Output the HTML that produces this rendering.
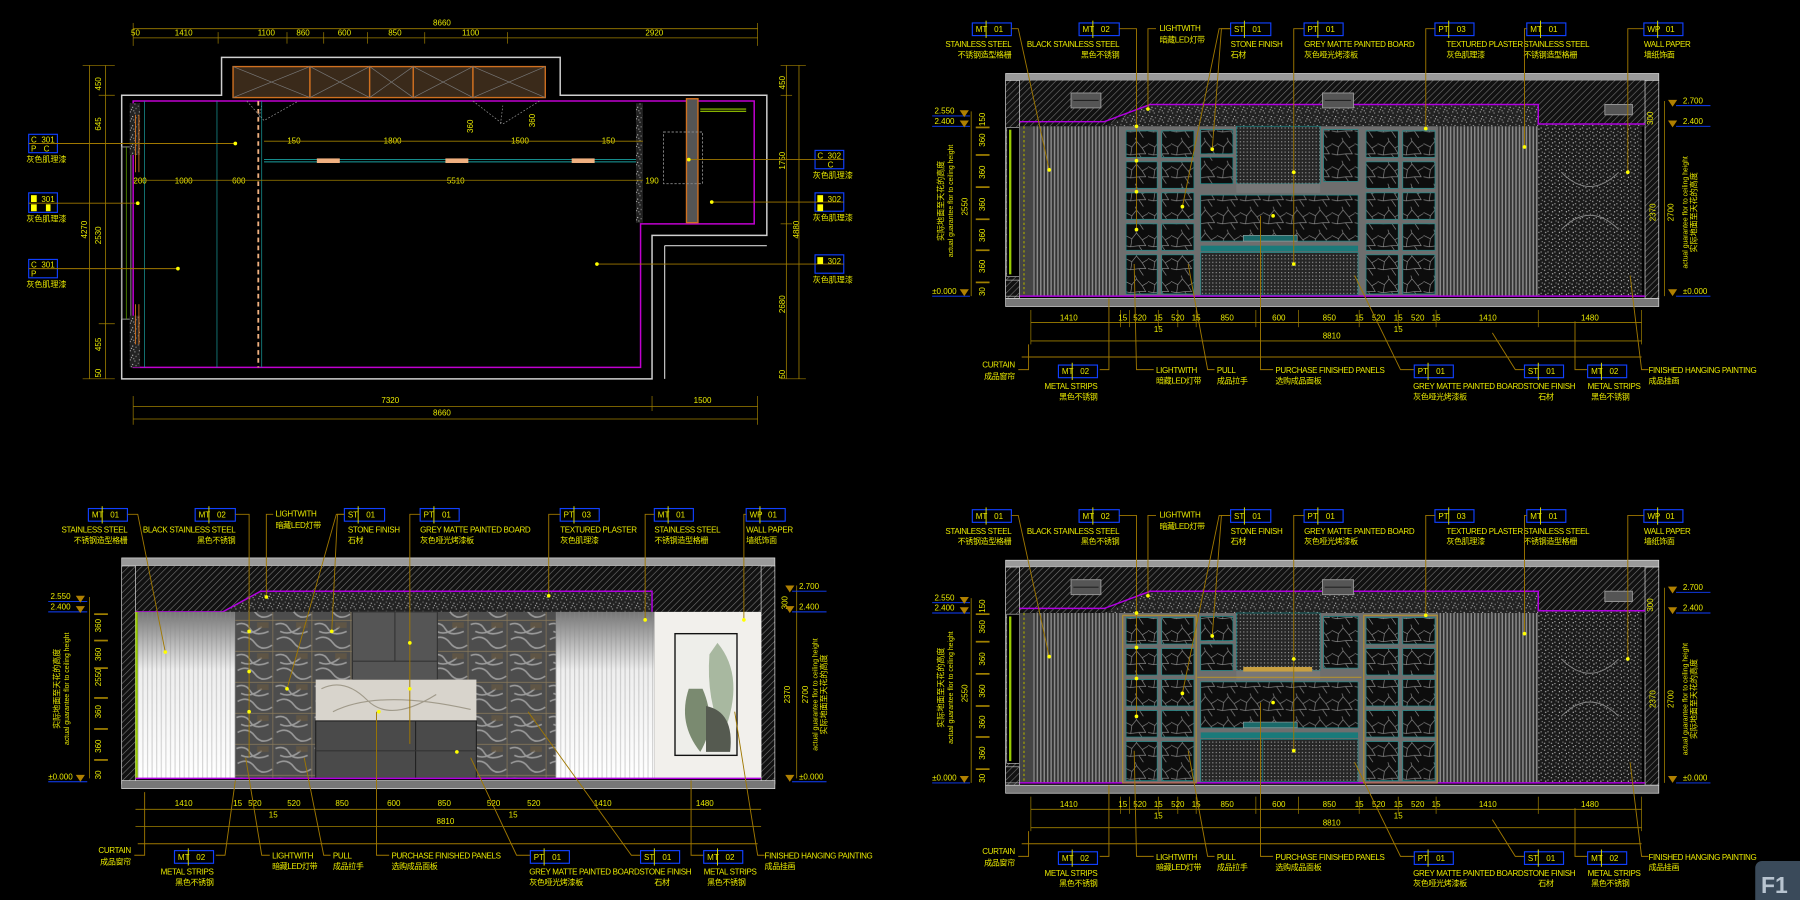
<!DOCTYPE html>
<html><head><meta charset="utf-8">
<style>
html,body{margin:0;padding:0;background:#000;width:1800px;height:900px;overflow:hidden}
svg{display:block}
text{font-family:"Liberation Sans","Noto Sans CJK SC",sans-serif;fill:#e8e800;font-size:7px}
.t{font-size:7px;letter-spacing:-0.3px}
.s{font-size:6.5px}
.bx{fill:none;stroke:#1040ff;stroke-width:1}
.ld{fill:none;stroke:#a07800;stroke-width:.8}
.dm{fill:none;stroke:#a08000;stroke-width:.7}
.dot{fill:#ffff00}
</style></head><body>
<svg width="1800" height="900" viewBox="0 0 1568 784" preserveAspectRatio="none" xmlns="http://www.w3.org/2000/svg">
<defs>
<pattern id="hatch" width="4" height="4" patternUnits="userSpaceOnUse" patternTransform="rotate(45)">
<rect width="4" height="4" fill="#111"/><line x1="0" y1="0" x2="0" y2="4" stroke="#777" stroke-width="1"/></pattern>
<pattern id="speck" width="8" height="8" patternUnits="userSpaceOnUse">
<rect width="8" height="8" fill="#222"/><rect x="1" y="1" width="1" height="1" fill="#aaa"/><rect x="5" y="2" width="1" height="1" fill="#999"/><rect x="3" y="5" width="1" height="1" fill="#bbb"/><rect x="6" y="6" width="1" height="1" fill="#888"/><rect x="0" y="4" width="1" height="1" fill="#777"/><rect x="4" y="0" width="1" height="1" fill="#999"/><rect x="2" y="7" width="1" height="1" fill="#aaa"/></pattern>
<pattern id="speck2" width="6" height="6" patternUnits="userSpaceOnUse">
<rect width="6" height="6" fill="#1a1a1a"/><rect x="1" y="1" width="1" height="1" fill="#bbb"/><rect x="4" y="3" width="1" height="1" fill="#aaa"/><rect x="2" y="4" width="1" height="1" fill="#ccc"/><rect x="5" y="0" width="1" height="1" fill="#888"/></pattern>
<pattern id="stripes" width="3" height="10" patternUnits="userSpaceOnUse">
<rect width="3" height="10" fill="#333"/><rect width="1.3" height="10" fill="#8a8a8a"/></pattern>
<pattern id="crack" width="20" height="20" patternUnits="userSpaceOnUse">
<rect width="20" height="20" fill="#0d0d0d"/><path d="M0 5 L6 8 L10 3 L15 9 L20 6 M6 8 L5 15 L12 14 L16 20 M10 3 L9 0 M15 9 L18 14 L12 14 M0 14 L5 15" stroke="#888" stroke-width=".6" fill="none"/></pattern>
<pattern id="perf" width="3" height="3" patternUnits="userSpaceOnUse">
<rect width="3" height="3" fill="#262626"/><rect width="1" height="1" fill="#9a9a9a"/></pattern>
<pattern id="tile" width="34" height="27" patternUnits="userSpaceOnUse">
<rect width="34" height="27" fill="#4d4d4d"/><path d="M2 4 Q10 1 14 8 T30 10 M3 17 Q12 12 18 20 T33 22 M6 10 Q15 14 24 6" stroke="#9a9a9a" stroke-width="1.4" fill="none"/><path d="M0 0 H34 V27" stroke="#8a7a5a" stroke-width="1.2" fill="none"/><rect x="20" y="2" width="10" height="5" fill="#6a5a40" opacity=".6"/></pattern>
<linearGradient id="curt" x1="0" y1="0" x2="0" y2="1"><stop offset="0" stop-color="#777"/><stop offset=".35" stop-color="#eee"/><stop offset="1" stop-color="#fff"/></linearGradient>
<pattern id="curtS" width="4" height="10" patternUnits="userSpaceOnUse"><rect width="4" height="10" fill="url(#curt)" opacity="0"/><rect width="1" height="10" fill="#888" opacity=".35"/></pattern>

<g id="elevA">
<rect x="876" y="64" width="569" height="6" fill="#9a9a9a" stroke="#ddd" stroke-width=".6"/>
<rect x="876" y="70" width="569" height="40" fill="url(#hatch)"/>
<rect x="876" y="70" width="12" height="190" fill="url(#hatch)" stroke="#ddd" stroke-width=".6"/>
<rect x="1433" y="70" width="12" height="190" fill="url(#hatch)" stroke="#ddd" stroke-width=".6"/>
<rect x="877" y="111" width="11" height="130" fill="#000" stroke="#ddd" stroke-width=".5"/>
<rect x="879" y="113" width="2" height="126" fill="#9c0"/>
<polygon points="962,110 1002,91 1340,91 1340,110" fill="url(#speck)"/>
<polygon points="1340,108 1433,108 1433,110 1340,110" fill="url(#speck)"/>
<polyline points="888,106 962,106 1002,91 1340,91 1340,108 1433,108" fill="none" stroke="#b000e0" stroke-width="1.3"/>
<rect x="933" y="81" width="26" height="13" fill="#555" stroke="#999" stroke-width=".8"/><line x1="935" y1="87.5" x2="957" y2="87.5" stroke="#222"/>
<rect x="1152" y="81" width="27" height="13" fill="#555" stroke="#999" stroke-width=".8"/><line x1="1154" y1="87.5" x2="1177" y2="87.5" stroke="#222"/>
<rect x="1398" y="91" width="24" height="9" fill="#555" stroke="#999" stroke-width=".8"/>
<rect x="888" y="110" width="12" height="148" fill="#444"/>
<line x1="892" y1="110" x2="892" y2="258" stroke="#aa0" stroke-width="1" stroke-dasharray="2 2"/>
<rect x="900" y="110" width="76" height="148" fill="url(#stripes)"/>
<rect x="976" y="110" width="277" height="148" fill="#6e6e6e"/>
<g fill="url(#crack)" stroke="#1a8a8a" stroke-width=".6">
<rect x="981" y="114" width="27" height="23"/><rect x="1012" y="114" width="28" height="23"/>
<rect x="981" y="141" width="27" height="23"/><rect x="1012" y="141" width="28" height="23"/>
<rect x="981" y="168" width="27" height="23"/><rect x="1012" y="168" width="28" height="23"/>
<rect x="981" y="195" width="27" height="23"/><rect x="1012" y="195" width="28" height="23"/>
<rect x="981" y="222" width="27" height="34"/><rect x="1012" y="222" width="28" height="34"/>
<rect x="1190" y="114" width="28" height="23"/><rect x="1222" y="114" width="28" height="23"/>
<rect x="1190" y="141" width="28" height="23"/><rect x="1222" y="141" width="28" height="23"/>
<rect x="1190" y="168" width="28" height="23"/><rect x="1222" y="168" width="28" height="23"/>
<rect x="1190" y="195" width="28" height="23"/><rect x="1222" y="195" width="28" height="23"/>
<rect x="1190" y="222" width="28" height="34"/><rect x="1222" y="222" width="28" height="34"/>
<rect x="1046" y="113" width="28" height="21"/><rect x="1046" y="137" width="28" height="23"/>
<rect x="1153" y="113" width="30" height="45"/>
<rect x="1046" y="170" width="137" height="40"/>
</g>
<rect x="1077" y="110" width="73" height="50" fill="url(#perf)" stroke="#1a8a8a" stroke-width=".6"/>
<rect x="1077" y="160" width="73" height="8" fill="#777"/>
<rect x="1046" y="214" width="137" height="5" fill="#1a7a7a"/>
<rect x="1046" y="220" width="137" height="37" fill="url(#perf)" stroke="#1a8a8a" stroke-width=".6"/>
<line x1="1100" y1="220" x2="1100" y2="257" stroke="#1a8a8a" stroke-width=".6"/>
<rect x="1083" y="205" width="47" height="5" fill="#1a6a6a" stroke="#aaa" stroke-width=".5"/>
<rect x="1253" y="110" width="87" height="148" fill="url(#stripes)"/>
<rect x="1340" y="110" width="90" height="148" fill="url(#speck2)"/>
<path d="M1360 150 Q1385 175 1410 150 M1360 200 Q1385 175 1410 200" stroke="#888" fill="none" stroke-width=".8"/>
<line x1="888" y1="258" x2="1433" y2="258" stroke="#b000e0" stroke-width="1.3"/>
<rect x="876" y="260" width="569" height="7" fill="#777" stroke="#ddd" stroke-width=".6"/>
<rect x="876" y="244" width="12" height="14" fill="url(#hatch)" stroke="#ddd" stroke-width=".5"/>
</g>

<g id="dimsA">
<line class="dm" x1="898" y1="281" x2="1430" y2="281"/>
<line class="dm" x1="898" y1="297" x2="1430" y2="297"/>
<g stroke="#a08000" stroke-width=".6">
<line x1="898" y1="270" x2="898" y2="300"/><line x1="976" y1="270" x2="976" y2="285"/><line x1="984" y1="270" x2="984" y2="285"/><line x1="1009" y1="270" x2="1009" y2="285"/><line x1="1026" y1="270" x2="1026" y2="285"/><line x1="1042" y1="270" x2="1042" y2="285"/><line x1="1094" y1="270" x2="1094" y2="285"/><line x1="1131" y1="270" x2="1131" y2="285"/><line x1="1184" y1="270" x2="1184" y2="285"/><line x1="1218" y1="270" x2="1218" y2="285"/><line x1="1251" y1="270" x2="1251" y2="285"/><line x1="1340" y1="270" x2="1340" y2="285"/><line x1="1430" y1="270" x2="1430" y2="300"/>
</g>
<g class="s" text-anchor="middle">
<text x="931" y="279">1410</text><text x="978" y="279">15</text><text x="993" y="279">520</text><text x="1009" y="279">15</text><text x="1026" y="279">520</text><text x="1042" y="279">15</text><text x="1069" y="279">850</text><text x="1114" y="279">600</text><text x="1158" y="279">850</text><text x="1184" y="279">15</text><text x="1201" y="279">520</text><text x="1218" y="279">15</text><text x="1235" y="279">520</text><text x="1251" y="279">15</text><text x="1296" y="279">1410</text><text x="1385" y="279">1480</text>
<text x="1009" y="289">15</text><text x="1218" y="289">15</text>
<text x="1160" y="295">8810</text>
</g>
<line class="dm" x1="846" y1="97" x2="846" y2="258"/>
<g stroke="#a08000" stroke-width="1.5"><line x1="850" y1="111" x2="862" y2="111"/><line x1="850" y1="135" x2="862" y2="135"/><line x1="850" y1="163" x2="862" y2="163"/><line x1="850" y1="191" x2="862" y2="191"/><line x1="850" y1="218" x2="862" y2="218"/><line x1="850" y1="246" x2="862" y2="246"/></g>
<g class="s" text-anchor="middle">
<text transform="translate(858,122) rotate(-90)">360</text><text transform="translate(858,150) rotate(-90)">360</text><text transform="translate(858,178) rotate(-90)">360</text><text transform="translate(858,205) rotate(-90)">360</text><text transform="translate(858,232) rotate(-90)">360</text><text transform="translate(858,104) rotate(-90)">150</text><text transform="translate(858,254) rotate(-90)">30</text>
<text transform="translate(843,180) rotate(-90)">2550</text>
<text transform="translate(822,175) rotate(-90)">实际地面至天花的高度</text>
<text transform="translate(830,175) rotate(-90)" style="font-size:6px">actual guarantee flor to ceiling height</text>
<text transform="translate(1440,103) rotate(-90)">300</text>
<text transform="translate(1442,185) rotate(-90)">2370</text>
<text transform="translate(1458,185) rotate(-90)">2700</text>
<text transform="translate(1470,185) rotate(-90)" style="font-size:6px">actual guarantee flor to ceiling height</text>
<text transform="translate(1478,185) rotate(-90)">实际地面至天花的高度</text>
</g>
<line class="dm" x1="1450" y1="88" x2="1450" y2="258"/>
<g class="s"><text x="814" y="99">2.550</text><text x="814" y="108">2.400</text><text x="812" y="256">±0.000</text>
<text x="1466" y="90">2.700</text><text x="1466" y="108">2.400</text><text x="1466" y="256">±0.000</text></g>
<g stroke="#1040ff" stroke-width=".8"><line x1="812" y1="101" x2="845" y2="101"/><line x1="812" y1="110" x2="845" y2="110"/><line x1="812" y1="258" x2="845" y2="258"/><line x1="1460" y1="92" x2="1490" y2="92"/><line x1="1460" y1="110" x2="1490" y2="110"/><line x1="1460" y1="258" x2="1490" y2="258"/></g>
<g fill="#b08000"><polygon points="836,96 844,96 840,102"/><polygon points="836,105 844,105 840,111"/><polygon points="836,252 844,252 840,258"/><polygon points="1453,87 1461,87 1457,93"/><polygon points="1453,105 1461,105 1457,111"/><polygon points="1453,252 1461,252 1457,258"/></g>
</g>

<g id="tagsA">
<g class="bx"><rect x="847" y="20" width="34" height="11"/><rect x="940" y="20" width="35" height="11"/><rect x="1072" y="20" width="35" height="11"/><rect x="1136" y="20" width="34" height="11"/><rect x="1250" y="20" width="34" height="11"/><rect x="1330" y="20" width="34" height="11"/><rect x="1432" y="20" width="34" height="11"/></g>
<g stroke="#e8e800" stroke-width=".8"><line x1="859" y1="18" x2="859" y2="33"/><line x1="952" y1="18" x2="952" y2="33"/><line x1="1084" y1="18" x2="1084" y2="33"/><line x1="1148" y1="18" x2="1148" y2="33"/><line x1="1262" y1="18" x2="1262" y2="33"/><line x1="1342" y1="18" x2="1342" y2="33"/><line x1="1444" y1="18" x2="1444" y2="33"/></g>
<g class="s"><text x="850" y="28">MT</text><text x="866" y="28">01</text><text x="943" y="28">MT</text><text x="959" y="28">02</text><text x="1075" y="28">ST</text><text x="1091" y="28">01</text><text x="1139" y="28">PT</text><text x="1155" y="28">01</text><text x="1253" y="28">PT</text><text x="1269" y="28">03</text><text x="1333" y="28">MT</text><text x="1349" y="28">01</text><text x="1435" y="28">WP</text><text x="1451" y="28">01</text></g>
<g class="t"><text x="881" y="41" text-anchor="end">STAINLESS STEEL</text><text x="881" y="50" text-anchor="end">不锈钢造型格栅</text>
<text x="975" y="41" text-anchor="end">BLACK STAINLESS STEEL</text><text x="975" y="50" text-anchor="end">黑色不锈钢</text>
<text x="1010" y="27">LIGHTWITH</text><text x="1010" y="37">暗藏LED灯带</text>
<text x="1072" y="41">STONE FINISH</text><text x="1072" y="50">石材</text>
<text x="1136" y="41">GREY MATTE PAINTED BOARD</text><text x="1136" y="50">灰色哑光烤漆板</text>
<text x="1260" y="41">TEXTURED PLASTER</text><text x="1260" y="50">灰色肌理漆</text>
<text x="1327" y="41">STAINLESS STEEL</text><text x="1327" y="50">不锈钢造型格栅</text>
<text x="1432" y="41">WALL PAPER</text><text x="1432" y="50">墙纸饰面</text></g>
<g class="ld"><polyline points="881,25 887,25 914,148"/><polyline points="975,25 990,25 990,200"/><polyline points="1007,25 1000,25 1000,95"/><polyline points="1072,25 1062,25 1030,180"/><polyline points="1072,25 1064,25 1056,130"/><polyline points="1136,25 1127,25 1127,230"/><polyline points="1250,25 1242,25 1242,112"/><polyline points="1330,25 1328,25 1328,128"/><polyline points="1432,25 1418,25 1418,150"/></g>
<g class="dot"><circle cx="914" cy="148" r="1.6"/><circle cx="990" cy="110" r="1.6"/><circle cx="990" cy="140" r="1.6"/><circle cx="990" cy="167" r="1.6"/><circle cx="990" cy="200" r="1.6"/><circle cx="1000" cy="95" r="1.6"/><circle cx="1030" cy="180" r="1.6"/><circle cx="1040" cy="150" r="1.6"/><circle cx="1056" cy="130" r="1.6"/><circle cx="1127" cy="150" r="1.6"/><circle cx="1127" cy="190" r="1.6"/><circle cx="1127" cy="230" r="1.6"/><circle cx="1242" cy="112" r="1.6"/><circle cx="1328" cy="128" r="1.6"/><circle cx="1418" cy="150" r="1.6"/><circle cx="1109" cy="188" r="1.6"/><circle cx="1000" cy="213" r="1.6"/><circle cx="988" cy="230" r="1.6"/></g>
<line class="ld" x1="890" y1="311" x2="1430" y2="311"/>
<g class="ld"><polyline points="887,322 896,322 896,300"/><polyline points="958,322 966,322 966,260"/><polyline points="1005,322 990,322 988,230"/><polyline points="1005,322 998,322 1000,210"/><polyline points="1058,322 1052,322 1035,230"/><polyline points="1109,322 1098,322 1098,188"/><polyline points="1232,322 1220,322 1180,240"/><polyline points="1328,322 1320,322 1300,290"/><polyline points="1383,322 1372,322 1372,280"/><polyline points="1436,322 1430,322 1420,240"/></g>
<g class="bx"><rect x="922" y="318" width="34" height="11"/><rect x="1232" y="318" width="34" height="11"/><rect x="1328" y="318" width="34" height="11"/><rect x="1383" y="318" width="34" height="11"/></g>
<g stroke="#e8e800" stroke-width=".8"><line x1="934" y1="316" x2="934" y2="331"/><line x1="1244" y1="316" x2="1244" y2="331"/><line x1="1340" y1="316" x2="1340" y2="331"/><line x1="1395" y1="316" x2="1395" y2="331"/></g>
<g class="s"><text x="925" y="326">MT</text><text x="941" y="326">02</text><text x="1235" y="326">PT</text><text x="1251" y="326">01</text><text x="1331" y="326">ST</text><text x="1347" y="326">01</text><text x="1386" y="326">MT</text><text x="1402" y="326">02</text></g>
<g class="t"><text x="884" y="320" text-anchor="end">CURTAIN</text><text x="884" y="330" text-anchor="end">成品窗帘</text>
<text x="956" y="339" text-anchor="end">METAL STRIPS</text><text x="956" y="348" text-anchor="end">黑色不锈钢</text>
<text x="1007" y="325">LIGHTWITH</text><text x="1007" y="334">暗藏LED灯带</text>
<text x="1060" y="325">PULL</text><text x="1060" y="334">成品拉手</text>
<text x="1111" y="325">PURCHASE FINISHED PANELS</text><text x="1111" y="334">选购成品面板</text>
<text x="1231" y="339">GREY MATTE PAINTED BOARD</text><text x="1231" y="348">灰色哑光烤漆板</text>
<text x="1327" y="339">STONE FINISH</text><text x="1340" y="348">石材</text>
<text x="1383" y="339">METAL STRIPS</text><text x="1386" y="348">黑色不锈钢</text>
<text x="1436" y="325">FINISHED HANGING PAINTING</text><text x="1436" y="334">成品挂画</text></g>
</g>
</defs>

<!-- top-right elevation -->
<use href="#elevA"/>
<use href="#dimsA"/>
<g>
<g class="bx"><rect x="847" y="20" width="34" height="11"/><rect x="940" y="20" width="35" height="11"/><rect x="1072" y="20" width="35" height="11"/><rect x="1136" y="20" width="34" height="11"/><rect x="1250" y="20" width="34" height="11"/><rect x="1330" y="20" width="34" height="11"/><rect x="1432" y="20" width="34" height="11"/></g>
<g stroke="#e8e800" stroke-width=".8"><line x1="859" y1="18" x2="859" y2="33"/><line x1="952" y1="18" x2="952" y2="33"/><line x1="1084" y1="18" x2="1084" y2="33"/><line x1="1148" y1="18" x2="1148" y2="33"/><line x1="1262" y1="18" x2="1262" y2="33"/><line x1="1342" y1="18" x2="1342" y2="33"/><line x1="1444" y1="18" x2="1444" y2="33"/></g>
<g class="s"><text x="850" y="28">MT</text><text x="866" y="28">01</text><text x="943" y="28">MT</text><text x="959" y="28">02</text><text x="1075" y="28">ST</text><text x="1091" y="28">01</text><text x="1139" y="28">PT</text><text x="1155" y="28">01</text><text x="1253" y="28">PT</text><text x="1269" y="28">03</text><text x="1333" y="28">MT</text><text x="1349" y="28">01</text><text x="1435" y="28">WP</text><text x="1451" y="28">01</text></g>
<g class="t"><text x="881" y="41" text-anchor="end">STAINLESS STEEL</text><text x="881" y="50" text-anchor="end">不锈钢造型格栅</text>
<text x="975" y="41" text-anchor="end">BLACK STAINLESS STEEL</text><text x="975" y="50" text-anchor="end">黑色不锈钢</text>
<text x="1010" y="27">LIGHTWITH</text><text x="1010" y="37">暗藏LED灯带</text>
<text x="1072" y="41">STONE FINISH</text><text x="1072" y="50">石材</text>
<text x="1136" y="41">GREY MATTE PAINTED BOARD</text><text x="1136" y="50">灰色哑光烤漆板</text>
<text x="1260" y="41">TEXTURED PLASTER</text><text x="1260" y="50">灰色肌理漆</text>
<text x="1327" y="41">STAINLESS STEEL</text><text x="1327" y="50">不锈钢造型格栅</text>
<text x="1432" y="41">WALL PAPER</text><text x="1432" y="50">墙纸饰面</text></g>
<g class="ld"><polyline points="881,25 887,25 914,148"/><polyline points="975,25 990,25 990,200"/><polyline points="1007,25 1000,25 1000,95"/><polyline points="1072,25 1062,25 1030,180"/><polyline points="1072,25 1064,25 1056,130"/><polyline points="1136,25 1127,25 1127,230"/><polyline points="1250,25 1242,25 1242,112"/><polyline points="1330,25 1328,25 1328,128"/><polyline points="1432,25 1418,25 1418,150"/></g>
<g class="dot"><circle cx="914" cy="148" r="1.6"/><circle cx="990" cy="110" r="1.6"/><circle cx="990" cy="140" r="1.6"/><circle cx="990" cy="167" r="1.6"/><circle cx="990" cy="200" r="1.6"/><circle cx="1000" cy="95" r="1.6"/><circle cx="1030" cy="180" r="1.6"/><circle cx="1056" cy="130" r="1.6"/><circle cx="1127" cy="150" r="1.6"/><circle cx="1127" cy="230" r="1.6"/><circle cx="1242" cy="112" r="1.6"/><circle cx="1328" cy="128" r="1.6"/><circle cx="1418" cy="150" r="1.6"/><circle cx="1109" cy="188" r="1.6"/></g>
<line class="ld" x1="890" y1="311" x2="1430" y2="311"/>
<g class="ld"><polyline points="887,322 896,322 896,300"/><polyline points="958,322 966,322 966,260"/><polyline points="1005,322 990,322 988,230"/><polyline points="1058,322 1052,322 1035,230"/><polyline points="1109,322 1098,322 1098,188"/><polyline points="1232,322 1220,322 1180,240"/><polyline points="1328,322 1320,322 1300,290"/><polyline points="1383,322 1372,322 1372,280"/><polyline points="1436,322 1430,322 1420,240"/></g>
<g class="bx"><rect x="922" y="318" width="34" height="11"/><rect x="1232" y="318" width="34" height="11"/><rect x="1328" y="318" width="34" height="11"/><rect x="1383" y="318" width="34" height="11"/></g>
<g stroke="#e8e800" stroke-width=".8"><line x1="934" y1="316" x2="934" y2="331"/><line x1="1244" y1="316" x2="1244" y2="331"/><line x1="1340" y1="316" x2="1340" y2="331"/><line x1="1395" y1="316" x2="1395" y2="331"/></g>
<g class="s"><text x="925" y="326">MT</text><text x="941" y="326">02</text><text x="1235" y="326">PT</text><text x="1251" y="326">01</text><text x="1331" y="326">ST</text><text x="1347" y="326">01</text><text x="1386" y="326">MT</text><text x="1402" y="326">02</text></g>
<g class="t"><text x="884" y="320" text-anchor="end">CURTAIN</text><text x="884" y="330" text-anchor="end">成品窗帘</text>
<text x="956" y="339" text-anchor="end">METAL STRIPS</text><text x="956" y="348" text-anchor="end">黑色不锈钢</text>
<text x="1007" y="325">LIGHTWITH</text><text x="1007" y="334">暗藏LED灯带</text>
<text x="1060" y="325">PULL</text><text x="1060" y="334">成品拉手</text>
<text x="1111" y="325">PURCHASE FINISHED PANELS</text><text x="1111" y="334">选购成品面板</text>
<text x="1231" y="339">GREY MATTE PAINTED BOARD</text><text x="1231" y="348">灰色哑光烤漆板</text>
<text x="1327" y="339">STONE FINISH</text><text x="1340" y="348">石材</text>
<text x="1383" y="339">METAL STRIPS</text><text x="1386" y="348">黑色不锈钢</text>
<text x="1436" y="325">FINISHED HANGING PAINTING</text><text x="1436" y="334">成品挂画</text></g>
</g>

<!-- bottom-right elevation -->
<g transform="translate(0,424)">
<use href="#elevA"/>
<use href="#dimsA"/>
<g fill="none" stroke="#b09030" stroke-width="1"><rect x="978" y="112" width="64" height="146"/><rect x="1188" y="112" width="64" height="146"/><line x1="1043" y1="166" x2="1186" y2="166"/></g>
<rect x="1083" y="157" width="60" height="4" fill="#c9a040"/>
<g class="bx"><rect x="847" y="20" width="34" height="11"/><rect x="940" y="20" width="35" height="11"/><rect x="1072" y="20" width="35" height="11"/><rect x="1136" y="20" width="34" height="11"/><rect x="1250" y="20" width="34" height="11"/><rect x="1330" y="20" width="34" height="11"/><rect x="1432" y="20" width="34" height="11"/></g>
<g stroke="#e8e800" stroke-width=".8"><line x1="859" y1="18" x2="859" y2="33"/><line x1="952" y1="18" x2="952" y2="33"/><line x1="1084" y1="18" x2="1084" y2="33"/><line x1="1148" y1="18" x2="1148" y2="33"/><line x1="1262" y1="18" x2="1262" y2="33"/><line x1="1342" y1="18" x2="1342" y2="33"/><line x1="1444" y1="18" x2="1444" y2="33"/></g>
<g class="s"><text x="850" y="28">MT</text><text x="866" y="28">01</text><text x="943" y="28">MT</text><text x="959" y="28">02</text><text x="1075" y="28">ST</text><text x="1091" y="28">01</text><text x="1139" y="28">PT</text><text x="1155" y="28">01</text><text x="1253" y="28">PT</text><text x="1269" y="28">03</text><text x="1333" y="28">MT</text><text x="1349" y="28">01</text><text x="1435" y="28">WP</text><text x="1451" y="28">01</text></g>
<g class="t"><text x="881" y="41" text-anchor="end">STAINLESS STEEL</text><text x="881" y="50" text-anchor="end">不锈钢造型格栅</text>
<text x="975" y="41" text-anchor="end">BLACK STAINLESS STEEL</text><text x="975" y="50" text-anchor="end">黑色不锈钢</text>
<text x="1010" y="27">LIGHTWITH</text><text x="1010" y="37">暗藏LED灯带</text>
<text x="1072" y="41">STONE FINISH</text><text x="1072" y="50">石材</text>
<text x="1136" y="41">GREY MATTE PAINTED BOARD</text><text x="1136" y="50">灰色哑光烤漆板</text>
<text x="1260" y="41">TEXTURED PLASTER</text><text x="1260" y="50">灰色肌理漆</text>
<text x="1327" y="41">STAINLESS STEEL</text><text x="1327" y="50">不锈钢造型格栅</text>
<text x="1432" y="41">WALL PAPER</text><text x="1432" y="50">墙纸饰面</text></g>
<g class="ld"><polyline points="881,25 887,25 914,148"/><polyline points="975,25 990,25 990,200"/><polyline points="1007,25 1000,25 1000,95"/><polyline points="1072,25 1062,25 1030,180"/><polyline points="1072,25 1064,25 1056,130"/><polyline points="1136,25 1127,25 1127,230"/><polyline points="1250,25 1242,25 1242,112"/><polyline points="1330,25 1328,25 1328,128"/><polyline points="1432,25 1418,25 1418,150"/></g>
<g class="dot"><circle cx="914" cy="148" r="1.6"/><circle cx="990" cy="110" r="1.6"/><circle cx="990" cy="140" r="1.6"/><circle cx="990" cy="167" r="1.6"/><circle cx="990" cy="200" r="1.6"/><circle cx="1000" cy="95" r="1.6"/><circle cx="1030" cy="180" r="1.6"/><circle cx="1056" cy="130" r="1.6"/><circle cx="1127" cy="150" r="1.6"/><circle cx="1127" cy="230" r="1.6"/><circle cx="1242" cy="112" r="1.6"/><circle cx="1328" cy="128" r="1.6"/><circle cx="1418" cy="150" r="1.6"/><circle cx="1109" cy="188" r="1.6"/></g>
<line class="ld" x1="890" y1="311" x2="1430" y2="311"/>
<g class="ld"><polyline points="887,322 896,322 896,300"/><polyline points="958,322 966,322 966,260"/><polyline points="1005,322 990,322 988,230"/><polyline points="1058,322 1052,322 1035,230"/><polyline points="1109,322 1098,322 1098,188"/><polyline points="1232,322 1220,322 1180,240"/><polyline points="1328,322 1320,322 1300,290"/><polyline points="1383,322 1372,322 1372,280"/><polyline points="1436,322 1430,322 1420,240"/></g>
<g class="bx"><rect x="922" y="318" width="34" height="11"/><rect x="1232" y="318" width="34" height="11"/><rect x="1328" y="318" width="34" height="11"/><rect x="1383" y="318" width="34" height="11"/></g>
<g stroke="#e8e800" stroke-width=".8"><line x1="934" y1="316" x2="934" y2="331"/><line x1="1244" y1="316" x2="1244" y2="331"/><line x1="1340" y1="316" x2="1340" y2="331"/><line x1="1395" y1="316" x2="1395" y2="331"/></g>
<g class="s"><text x="925" y="326">MT</text><text x="941" y="326">02</text><text x="1235" y="326">PT</text><text x="1251" y="326">01</text><text x="1331" y="326">ST</text><text x="1347" y="326">01</text><text x="1386" y="326">MT</text><text x="1402" y="326">02</text></g>
<g class="t"><text x="884" y="320" text-anchor="end">CURTAIN</text><text x="884" y="330" text-anchor="end">成品窗帘</text>
<text x="956" y="339" text-anchor="end">METAL STRIPS</text><text x="956" y="348" text-anchor="end">黑色不锈钢</text>
<text x="1007" y="325">LIGHTWITH</text><text x="1007" y="334">暗藏LED灯带</text>
<text x="1060" y="325">PULL</text><text x="1060" y="334">成品拉手</text>
<text x="1111" y="325">PURCHASE FINISHED PANELS</text><text x="1111" y="334">选购成品面板</text>
<text x="1231" y="339">GREY MATTE PAINTED BOARD</text><text x="1231" y="348">灰色哑光烤漆板</text>
<text x="1327" y="339">STONE FINISH</text><text x="1340" y="348">石材</text>
<text x="1383" y="339">METAL STRIPS</text><text x="1386" y="348">黑色不锈钢</text>
<text x="1436" y="325">FINISHED HANGING PAINTING</text><text x="1436" y="334">成品挂画</text></g>
</g>

<!-- bottom-left elevation -->
<g>
<rect x="106" y="486" width="569" height="7" fill="#9a9a9a" stroke="#ddd" stroke-width=".6"/>
<rect x="106" y="493" width="569" height="40" fill="url(#hatch)"/>
<rect x="106" y="493" width="12" height="190" fill="url(#hatch)" stroke="#ddd" stroke-width=".6"/>
<rect x="663" y="493" width="12" height="190" fill="url(#hatch)" stroke="#ddd" stroke-width=".6"/>
<polygon points="194,533 227,515 568,515 568,533" fill="url(#speck)"/>
<polyline points="118,533 194,533 227,515 568,515 568,533" fill="none" stroke="#b000e0" stroke-width="1.3"/>
<rect x="118" y="533" width="2" height="145" fill="#9c0"/>
<rect x="120" y="533" width="85" height="145" fill="url(#curt)"/>
<rect x="120" y="533" width="85" height="145" fill="url(#curtS)"/>
<rect x="484" y="533" width="86" height="145" fill="url(#curt)"/>
<rect x="484" y="533" width="86" height="145" fill="url(#curtS)"/>
<rect x="205" y="533" width="103" height="145" fill="url(#tile)"/>
<rect x="381" y="533" width="103" height="145" fill="url(#tile)"/>
<rect x="307" y="533" width="74" height="59" fill="#555" stroke="#333"/>
<line x1="344" y1="533" x2="344" y2="576" stroke="#333"/><line x1="307" y1="576" x2="381" y2="576" stroke="#333"/>
<rect x="275" y="592" width="140" height="36" fill="#d8d4cc"/>
<path d="M280 600 Q300 590 320 610 T380 605 M290 620 Q330 600 410 618" stroke="#a09a8a" fill="none"/>
<rect x="275" y="628" width="140" height="50" fill="#4a4a4a" stroke="#222"/>
<line x1="362" y1="628" x2="362" y2="678" stroke="#222"/><line x1="275" y1="654" x2="415" y2="654" stroke="#333"/>
<rect x="570" y="533" width="93" height="145" fill="#f2f0ec"/>
<rect x="588" y="552" width="54" height="106" fill="#eeeeea" stroke="#111" stroke-width="1.2"/>
<path d="M600 600 Q590 630 610 655 Q625 630 612 600 Z" fill="#7a8a70"/><path d="M625 560 Q650 590 630 640 Q615 610 618 570 Z" fill="#a8b8a0"/><path d="M615 615 Q640 620 636 655 L615 655 Z" fill="#555a50"/>
<line x1="118" y1="678" x2="663" y2="678" stroke="#b000e0" stroke-width="1.3"/>
<rect x="106" y="680" width="569" height="7" fill="#777" stroke="#ddd" stroke-width=".6"/>
<!-- dims -->
<line class="dm" x1="118" y1="705" x2="663" y2="705"/><line class="dm" x1="118" y1="720" x2="663" y2="720"/>
<g class="s" text-anchor="middle"><text x="160" y="702">1410</text><text x="207" y="702">15</text><text x="222" y="702">520</text><text x="256" y="702">520</text><text x="298" y="702">850</text><text x="343" y="702">600</text><text x="387" y="702">850</text><text x="430" y="702">520</text><text x="465" y="702">520</text><text x="525" y="702">1410</text><text x="614" y="702">1480</text><text x="238" y="712">15</text><text x="447" y="712">15</text><text x="388" y="718">8810</text>
<text transform="translate(88,590) rotate(-90)">2550</text>
<text transform="translate(52,600) rotate(-90)">实际地面至天花的高度</text>
<text transform="translate(60,600) rotate(-90)" style="font-size:6px">actual guarantee flor to ceiling height</text>
<text transform="translate(688,605) rotate(-90)">2370</text>
<text transform="translate(704,605) rotate(-90)">2700</text>
<text transform="translate(712,605) rotate(-90)" style="font-size:6px">actual guarantee flor to ceiling height</text>
<text transform="translate(720,605) rotate(-90)">实际地面至天花的高度</text>
<text transform="translate(686,525) rotate(-90)">300</text>
<text transform="translate(88,545) rotate(-90)">360</text><text transform="translate(88,570) rotate(-90)">360</text><text transform="translate(88,620) rotate(-90)">360</text><text transform="translate(88,650) rotate(-90)">360</text><text transform="translate(88,675) rotate(-90)">30</text>
</g>
<line class="dm" x1="78" y1="520" x2="78" y2="678"/><line class="dm" x1="694" y1="510" x2="694" y2="678"/>
<g stroke="#a08000" stroke-width="1.5"><line x1="82" y1="535" x2="94" y2="535"/><line x1="82" y1="558" x2="94" y2="558"/><line x1="82" y1="582" x2="94" y2="582"/><line x1="82" y1="608" x2="94" y2="608"/><line x1="82" y1="635" x2="94" y2="635"/><line x1="82" y1="662" x2="94" y2="662"/></g>
<g class="s"><text x="44" y="522">2.550</text><text x="44" y="531">2.400</text><text x="42" y="679">±0.000</text><text x="696" y="513">2.700</text><text x="696" y="531">2.400</text><text x="696" y="679">±0.000</text></g>
<g stroke="#1040ff" stroke-width=".8"><line x1="42" y1="524" x2="76" y2="524"/><line x1="42" y1="533" x2="76" y2="533"/><line x1="42" y1="681" x2="76" y2="681"/><line x1="690" y1="515" x2="720" y2="515"/><line x1="690" y1="533" x2="720" y2="533"/><line x1="690" y1="681" x2="720" y2="681"/></g>
<g fill="#b08000"><polygon points="66,519 74,519 70,525"/><polygon points="66,528 74,528 70,534"/><polygon points="66,675 74,675 70,681"/><polygon points="684,510 692,510 688,516"/><polygon points="684,528 692,528 688,534"/><polygon points="684,675 692,675 688,681"/></g>
<!-- labels -->
<g class="bx"><rect x="77" y="443" width="34" height="11"/><rect x="170" y="443" width="35" height="11"/><rect x="300" y="443" width="35" height="11"/><rect x="366" y="443" width="34" height="11"/><rect x="488" y="443" width="34" height="11"/><rect x="570" y="443" width="34" height="11"/><rect x="650" y="443" width="34" height="11"/></g>
<g stroke="#e8e800" stroke-width=".8"><line x1="89" y1="441" x2="89" y2="456"/><line x1="182" y1="441" x2="182" y2="456"/><line x1="312" y1="441" x2="312" y2="456"/><line x1="378" y1="441" x2="378" y2="456"/><line x1="500" y1="441" x2="500" y2="456"/><line x1="582" y1="441" x2="582" y2="456"/><line x1="662" y1="441" x2="662" y2="456"/></g>
<g class="s"><text x="80" y="451">MT</text><text x="96" y="451">01</text><text x="173" y="451">MT</text><text x="189" y="451">02</text><text x="303" y="451">ST</text><text x="319" y="451">01</text><text x="369" y="451">PT</text><text x="385" y="451">01</text><text x="491" y="451">PT</text><text x="507" y="451">03</text><text x="573" y="451">MT</text><text x="589" y="451">01</text><text x="653" y="451">WP</text><text x="669" y="451">01</text></g>
<g class="t"><text x="111" y="464" text-anchor="end">STAINLESS STEEL</text><text x="111" y="473" text-anchor="end">不锈钢造型格栅</text>
<text x="205" y="464" text-anchor="end">BLACK STAINLESS STEEL</text><text x="205" y="473" text-anchor="end">黑色不锈钢</text>
<text x="240" y="450">LIGHTWITH</text><text x="240" y="460">暗藏LED灯带</text>
<text x="303" y="464">STONE FINISH</text><text x="303" y="473">石材</text>
<text x="366" y="464">GREY MATTE PAINTED BOARD</text><text x="366" y="473">灰色哑光烤漆板</text>
<text x="488" y="464">TEXTURED PLASTER</text><text x="488" y="473">灰色肌理漆</text>
<text x="570" y="464">STAINLESS STEEL</text><text x="570" y="473">不锈钢造型格栅</text>
<text x="650" y="464">WALL PAPER</text><text x="650" y="473">墙纸饰面</text></g>
<g class="ld"><polyline points="111,448 120,448 144,568"/><polyline points="205,448 217,448 217,660"/><polyline points="238,448 232,448 232,520"/><polyline points="300,448 293,448 250,600"/><polyline points="300,448 294,448 289,550"/><polyline points="366,448 357,448 357,648"/><polyline points="488,448 478,448 478,519"/><polyline points="570,448 562,448 562,540"/><polyline points="650,448 648,448 648,540"/></g>
<g class="dot"><circle cx="144" cy="568" r="1.6"/><circle cx="217" cy="550" r="1.6"/><circle cx="217" cy="585" r="1.6"/><circle cx="217" cy="620" r="1.6"/><circle cx="232" cy="520" r="1.6"/><circle cx="250" cy="600" r="1.6"/><circle cx="289" cy="550" r="1.6"/><circle cx="357" cy="560" r="1.6"/><circle cx="357" cy="600" r="1.6"/><circle cx="478" cy="519" r="1.6"/><circle cx="562" cy="540" r="1.6"/><circle cx="648" cy="540" r="1.6"/><circle cx="330" cy="620" r="1.6"/><circle cx="398" cy="655" r="1.6"/></g>
<line class="ld" x1="120" y1="735" x2="660" y2="735"/>
<g class="ld"><polyline points="117,745 126,745 126,690"/><polyline points="188,745 196,745 205,680"/><polyline points="235,745 228,745 214,660"/><polyline points="288,745 282,745 265,660"/><polyline points="339,745 328,745 328,620"/><polyline points="462,745 450,745 410,660"/><polyline points="558,745 550,745 460,620"/><polyline points="613,745 602,745 602,680"/><polyline points="666,745 660,745 640,620"/></g>
<g class="bx"><rect x="152" y="741" width="34" height="11"/><rect x="462" y="741" width="34" height="11"/><rect x="558" y="741" width="34" height="11"/><rect x="613" y="741" width="34" height="11"/></g>
<g stroke="#e8e800" stroke-width=".8"><line x1="164" y1="739" x2="164" y2="754"/><line x1="474" y1="739" x2="474" y2="754"/><line x1="570" y1="739" x2="570" y2="754"/><line x1="625" y1="739" x2="625" y2="754"/></g>
<g class="s"><text x="155" y="749">MT</text><text x="171" y="749">02</text><text x="465" y="749">PT</text><text x="481" y="749">01</text><text x="561" y="749">ST</text><text x="577" y="749">01</text><text x="616" y="749">MT</text><text x="632" y="749">02</text></g>
<g class="t"><text x="114" y="743" text-anchor="end">CURTAIN</text><text x="114" y="753" text-anchor="end">成品窗帘</text>
<text x="186" y="762" text-anchor="end">METAL STRIPS</text><text x="186" y="771" text-anchor="end">黑色不锈钢</text>
<text x="237" y="748">LIGHTWITH</text><text x="237" y="757">暗藏LED灯带</text>
<text x="290" y="748">PULL</text><text x="290" y="757">成品拉手</text>
<text x="341" y="748">PURCHASE FINISHED PANELS</text><text x="341" y="757">选购成品面板</text>
<text x="461" y="762">GREY MATTE PAINTED BOARD</text><text x="461" y="771">灰色哑光烤漆板</text>
<text x="557" y="762">STONE FINISH</text><text x="570" y="771">石材</text>
<text x="613" y="762">METAL STRIPS</text><text x="616" y="771">黑色不锈钢</text>
<text x="666" y="748">FINISHED HANGING PAINTING</text><text x="666" y="757">成品挂画</text></g>
</g>

<!-- floor plan -->
<g>
<polygon points="106,83 193,83 193,50 488,50 488,83 668,83 668,205 568,205 568,330 106,330" fill="none" stroke="#cfcfcf" stroke-width="1.3"/>
<polygon points="116,88 657,88 657,195 558,195 558,320 116,320" fill="none" stroke="#c000d0" stroke-width="1.3"/>
<g fill="#3a2a1a" stroke="#d07020" stroke-width="1.2"><rect x="203" y="58" width="67" height="27"/><rect x="270" y="58" width="52" height="27"/><rect x="322" y="58" width="38" height="27"/><rect x="360" y="58" width="52" height="27"/><rect x="412" y="58" width="63" height="27"/></g>
<g stroke="#777" stroke-width=".6"><path d="M203 58 L270 85 M270 58 L203 85 M270 58 L322 85 M322 58 L270 85 M322 58 L360 85 M360 58 L322 85 M360 58 L412 85 M412 58 L360 85 M412 58 L475 85 M475 58 L412 85"/></g>
<g stroke="#999" stroke-width=".6" stroke-dasharray="1.5 1.5" fill="none"><path d="M215 88 L230 105 L260 88 M225 105 L228 92"/><path d="M412 88 L438 108 L470 88 M436 108 L438 92"/></g>
<line x1="225" y1="88" x2="225" y2="320" stroke="#f0b080" stroke-width="1.6" stroke-dasharray="4 3"/>
<line x1="228" y1="88" x2="228" y2="320" stroke="#1aa0a0" stroke-width=".6"/>
<line x1="189" y1="88" x2="189" y2="320" stroke="#1aa0a0" stroke-width=".6"/>
<line x1="126" y1="88" x2="126" y2="320" stroke="#1aa0a0" stroke-width=".6"/>
<line x1="230" y1="139" x2="560" y2="139" stroke="#1aa0a0" stroke-width=".8"/><line x1="230" y1="141" x2="560" y2="141" stroke="#1aa0a0" stroke-width=".8"/>
<g fill="#f0b080"><rect x="276" y="138" width="20" height="4"/><rect x="388" y="138" width="20" height="4"/><rect x="498" y="138" width="20" height="4"/></g>
<rect x="106" y="128" width="8" height="150" fill="none" stroke="#999" stroke-width=".8"/><line x1="110" y1="128" x2="110" y2="278" stroke="#6a0" stroke-width=".6"/>
<rect x="113" y="90" width="9" height="45" fill="url(#speck)"/><rect x="113" y="275" width="9" height="45" fill="url(#speck)"/>
<g stroke="#d07020" stroke-width=".8"><line x1="118" y1="100" x2="118" y2="150"/><line x1="121" y1="100" x2="121" y2="150"/><line x1="118" y1="265" x2="118" y2="300"/><line x1="121" y1="265" x2="121" y2="300"/></g>
<rect x="598" y="86" width="10" height="108" fill="#555" stroke="#d07020" stroke-width="1.2"/>
<rect x="554" y="90" width="6" height="104" fill="url(#speck)"/>
<rect x="578" y="115" width="34" height="45" fill="none" stroke="#888" stroke-width=".8" stroke-dasharray="2 1.5"/>
<line x1="610" y1="95" x2="650" y2="95" stroke="#9c0"/><line x1="610" y1="97" x2="650" y2="97" stroke="#9c0"/>
<rect x="568" y="205" width="0" height="0"/>
<line x1="579" y1="214" x2="579" y2="330" stroke="#cfcfcf" stroke-width="1"/><line x1="579" y1="214" x2="668" y2="214" stroke="#cfcfcf" stroke-width="1"/>
<!-- dims -->
<line class="dm" x1="116" y1="25" x2="660" y2="25"/><line class="dm" x1="116" y1="33" x2="660" y2="33"/>
<g stroke="#a08000" stroke-width=".6"><line x1="116" y1="20" x2="116" y2="40"/><line x1="190" y1="28" x2="190" y2="38"/><line x1="250" y1="28" x2="250" y2="38"/><line x1="282" y1="28" x2="282" y2="38"/><line x1="320" y1="28" x2="320" y2="38"/><line x1="370" y1="28" x2="370" y2="38"/><line x1="442" y1="28" x2="442" y2="38"/><line x1="660" y1="20" x2="660" y2="40"/></g>
<g class="s" text-anchor="middle"><text x="385" y="22">8660</text><text x="118" y="31">50</text><text x="160" y="31">1410</text><text x="232" y="31">1100</text><text x="264" y="31">860</text><text x="300" y="31">600</text><text x="344" y="31">850</text><text x="410" y="31">1100</text><text x="570" y="31">2920</text>
<text x="256" y="125">150</text><text x="342" y="125">1800</text><text x="453" y="125">1500</text><text x="530" y="125">150</text>
<text x="122" y="160">200</text><text x="160" y="160">1000</text><text x="208" y="160">600</text><text x="397" y="160">5510</text><text x="568" y="160">190</text>
<text x="340" y="351">7320</text><text x="612" y="351">1500</text><text x="385" y="362">8660</text>
<text transform="translate(88,73) rotate(-90)">450</text><text transform="translate(88,108) rotate(-90)">645</text><text transform="translate(76,200) rotate(-90)">4270</text><text transform="translate(88,205) rotate(-90)">2530</text><text transform="translate(88,300) rotate(-90)">455</text><text transform="translate(88,325) rotate(-90)">50</text>
<text transform="translate(684,72) rotate(-90)">450</text><text transform="translate(684,140) rotate(-90)">1750</text><text transform="translate(696,200) rotate(-90)">4880</text><text transform="translate(684,265) rotate(-90)">2680</text><text transform="translate(684,326) rotate(-90)">50</text>
<text transform="translate(466,105) rotate(-90)">360</text><text transform="translate(412,110) rotate(-90)">360</text>
</g>
<line class="dm" x1="230" y1="123" x2="560" y2="123"/><line class="dm" x1="116" y1="157" x2="560" y2="157"/>
<line class="dm" x1="116" y1="354" x2="660" y2="354"/><line class="dm" x1="116" y1="365" x2="660" y2="365"/>
<g stroke="#a08000" stroke-width=".6"><line x1="116" y1="345" x2="116" y2="370"/><line x1="568" y1="345" x2="568" y2="358"/><line x1="660" y1="345" x2="660" y2="370"/></g>
<line class="dm" x1="78" y1="57" x2="78" y2="330"/><line class="dm" x1="92" y1="57" x2="92" y2="330"/>
<line class="dm" x1="685" y1="57" x2="685" y2="330"/><line class="dm" x1="696" y1="57" x2="696" y2="330"/>
<g stroke="#a08000" stroke-width=".6"><line x1="72" y1="57" x2="100" y2="57"/><line x1="86" y1="83" x2="100" y2="83"/><line x1="86" y1="125" x2="100" y2="125"/><line x1="86" y1="282" x2="100" y2="282"/><line x1="72" y1="330" x2="100" y2="330"/><line x1="680" y1="57" x2="702" y2="57"/><line x1="680" y1="83" x2="690" y2="83"/><line x1="680" y1="195" x2="690" y2="195"/><line x1="680" y1="330" x2="702" y2="330"/></g>
<!-- tags -->
<g class="bx"><rect x="25" y="117" width="25" height="16"/><rect x="25" y="168" width="25" height="17"/><rect x="25" y="226" width="25" height="16"/><rect x="710" y="131" width="25" height="16"/><rect x="710" y="168" width="25" height="16"/><rect x="710" y="222" width="25" height="16"/></g>
<g class="ld"><line x1="25" y1="125" x2="205" y2="125"/><line x1="25" y1="177" x2="120" y2="177"/><line x1="25" y1="234" x2="155" y2="234"/><line x1="735" y1="139" x2="600" y2="139"/><line x1="735" y1="176" x2="620" y2="176"/><line x1="735" y1="230" x2="520" y2="230"/></g>
<g class="dot"><circle cx="205" cy="125" r="1.6"/><circle cx="120" cy="177" r="1.6"/><circle cx="155" cy="234" r="1.6"/><circle cx="620" cy="176" r="1.6"/><circle cx="520" cy="230" r="1.6"/><circle cx="600" cy="139" r="1.6"/></g>
<g fill="#ff0"><rect x="27" y="170" width="5" height="6"/><rect x="27" y="178" width="5" height="6"/><rect x="40" y="178" width="4" height="6"/><rect x="712" y="170" width="5" height="6"/><rect x="712" y="178" width="5" height="6"/><rect x="712" y="224" width="5" height="6"/></g>
<g class="s"><text x="27" y="124">C</text><text x="36" y="124">301</text><text x="27" y="132">P</text><text x="38" y="132">C</text><text x="36" y="176">301</text><text x="27" y="233">C</text><text x="36" y="233">301</text><text x="27" y="241">P</text>
<text x="712" y="138">C</text><text x="721" y="138">302</text><text x="721" y="146">C</text><text x="721" y="176">302</text><text x="721" y="230">302</text>
<text x="23" y="141">灰色肌理漆</text><text x="23" y="193">灰色肌理漆</text><text x="23" y="250">灰色肌理漆</text>
<text x="708" y="155">灰色肌理漆</text><text x="708" y="192">灰色肌理漆</text><text x="708" y="246">灰色肌理漆</text></g>
</g>

<!-- F1 badge -->
<rect x="1529" y="750" width="45" height="40" rx="6" fill="#3a4a5a"/>
<text x="1534" y="778" style="font-size:20px;fill:#b8c4d0;font-weight:bold">F1</text>
</svg>
</body></html>
